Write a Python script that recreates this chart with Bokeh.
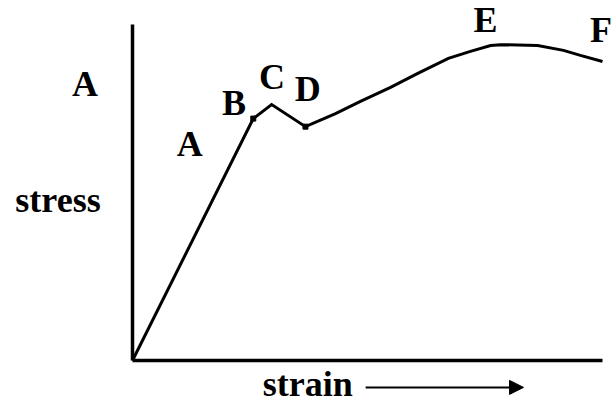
from bokeh.plotting import figure
from bokeh.models import Range1d, ColumnDataSource, Arrow, NormalHead
from bokeh.core.properties import value
from bokeh.embed import file_html
from bokeh.resources import INLINE

# stress-strain curve (arbitrary units, axes run 0..10)
strain = [0.0, 2.57, 2.96, 3.68, 4.32, 4.85, 5.49, 6.06, 6.72, 7.19, 7.62, 7.83, 8.62, 9.17, 9.53, 10.0]
stress = [0.0, 7.20, 7.62, 6.96, 7.35, 7.71, 8.13, 8.54, 8.99, 9.20, 9.375, 9.40, 9.375, 9.23, 9.08, 8.90]

# marked points on the curve (B and D)
mark_strain = [2.57, 3.68]
mark_stress = [7.20, 6.96]

# point labels
point_labels = ["A", "A", "B", "C", "D", "E", "F"]
label_strain = [-1.01, 1.22, 2.16, 2.97, 3.73, 7.51, 9.97]
label_stress = [7.89, 6.13, 7.35, 8.125, 7.74, 9.82, 9.52]

# axis extents
axis_max_strain = 10.0
axis_max_stress = 10.0

FONT = value("Liberation Serif")
W, H = 613, 403
TEXT_STYLE = dict(text_font=FONT, text_font_style="bold", text_font_size="36px",
                  text_align="center", text_baseline="alphabetic",
                  text_color="black", y_offset=-11)

p = figure(width=W, height=H,
           x_range=Range1d(-132 / 47, (W - 132) / 47),
           y_range=Range1d((360 - H) / 33.6, 360 / 33.6),
           output_backend="svg", toolbar_location=None,
           x_axis_location=None, y_axis_location=None, min_border=0)
p.grid.visible = False
p.outline_line_color = None
p.background_fill_color = "white"
p.border_fill_color = "white"

# axes drawn as lines
p.segment(x0=[0, 0], y0=[0, 0], x1=[0, axis_max_strain], y1=[axis_max_stress, 0],
          line_color="black", line_width=3.5)

# the curve
p.line(strain, stress, line_color="black", line_width=3, line_join="miter")
p.scatter(mark_strain, mark_stress, marker="square", size=5, color="black")

# point labels
src = ColumnDataSource(dict(x=label_strain, y=label_stress, t=point_labels))
p.text(x="x", y="y", text="t", source=src, **TEXT_STYLE)

# axis titles
p.text(x=[-1.585], y=[4.46], text=["stress"], **TEXT_STYLE)
p.text(x=[3.73], y=[-1.04], text=["strain"], **TEXT_STYLE)

# strain arrow
p.add_layout(Arrow(x_start=4.96, y_start=-0.80, x_end=8.32, y_end=-0.80,
                   line_width=2, line_color="black",
                   end=NormalHead(size=14, fill_color="black", line_color="black")))

open("out.html", "w").write(file_html(p, INLINE))
